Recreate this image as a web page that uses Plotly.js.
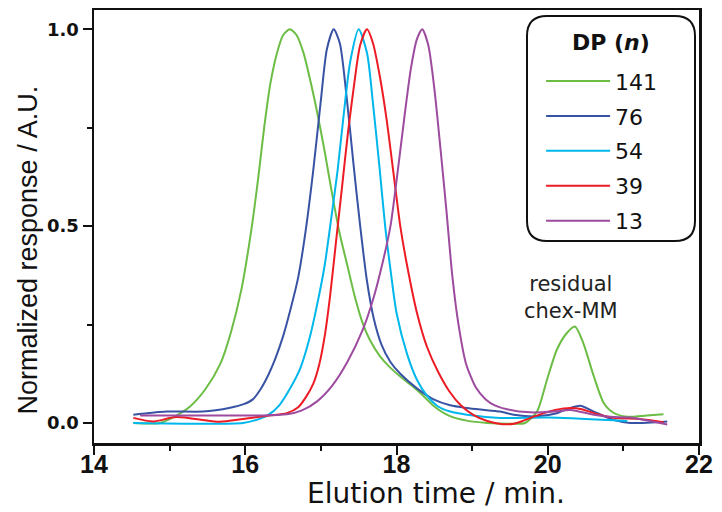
<!DOCTYPE html>
<html>
<head>
<meta charset="utf-8">
<script src="https://cdn.plot.ly/plotly-3.0.1.min.js"></script>
<style>html,body{margin:0;padding:0;background:#fff;}#chart{width:722px;height:512px;}</style>
</head>
<body>
<div id="chart"></div>
<script>
// ---- data ----
const seriesNames = ['141', '76', '54', '39', '13'];
const seriesColors = ['#6cbd45', '#3953a4', '#00b7eb', '#ed1c24', '#9d4b9f'];

const time141 = [14.52, 14.87, 15.07, 15.27, 15.47, 15.67, 15.81, 15.95, 16.08, 16.17, 16.25, 16.33, 16.42, 16.50, 16.59, 16.68, 16.77, 16.86, 16.95, 17.05, 17.15, 17.25, 17.35, 17.45, 17.55, 17.65, 17.78, 17.92, 18.05, 18.20, 18.35, 18.50, 18.70, 18.93, 19.20, 19.50, 19.70, 19.86, 19.99, 20.12, 20.25, 20.36, 20.47, 20.61, 20.74, 20.87, 21.05, 21.31, 21.53];
const resp141 = [0.0, 0.0, 0.017, 0.042, 0.085, 0.15, 0.23, 0.34, 0.49, 0.62, 0.75, 0.86, 0.94, 0.985, 1.0, 0.985, 0.94, 0.87, 0.79, 0.69, 0.58, 0.48, 0.40, 0.32, 0.255, 0.21, 0.17, 0.14, 0.118, 0.095, 0.07, 0.042, 0.018, 0.006, 0.0, -0.002, 0.0, 0.03, 0.11, 0.186, 0.228, 0.245, 0.203, 0.118, 0.051, 0.026, 0.016, 0.019, 0.022];

const time76 = [14.52, 14.96, 15.44, 15.80, 15.98, 16.10, 16.20, 16.30, 16.40, 16.50, 16.60, 16.70, 16.80, 16.90, 17.00, 17.08, 17.17, 17.25, 17.34, 17.43, 17.52, 17.61, 17.70, 17.80, 17.92, 18.05, 18.27, 18.49, 18.71, 18.93, 19.11, 19.37, 19.55, 19.86, 20.12, 20.30, 20.43, 20.61, 20.87, 21.09, 21.58];
const resp76 = [0.021, 0.029, 0.029, 0.039, 0.048, 0.06, 0.085, 0.12, 0.165, 0.22, 0.29, 0.37, 0.49, 0.643, 0.82, 0.95, 1.0, 0.965, 0.829, 0.66, 0.50, 0.36, 0.265, 0.20, 0.155, 0.125, 0.088, 0.06, 0.045, 0.038, 0.034, 0.029, 0.021, 0.017, 0.025, 0.038, 0.044, 0.029, 0.008, 0.0, 0.004];

const time54 = [14.52, 15.97, 16.15, 16.30, 16.45, 16.60, 16.73, 16.85, 16.95, 17.05, 17.13, 17.22, 17.30, 17.39, 17.50, 17.61, 17.69, 17.78, 17.85, 17.92, 18.00, 18.14, 18.27, 18.40, 18.55, 18.71, 18.93, 19.37, 19.99, 20.87, 21.05];
const resp54 = [0.0, 0.0, 0.008, 0.02, 0.045, 0.09, 0.14, 0.215, 0.30, 0.40, 0.51, 0.64, 0.78, 0.92, 1.0, 0.94, 0.81, 0.64, 0.50, 0.39, 0.28, 0.175, 0.11, 0.07, 0.042, 0.029, 0.021, 0.013, 0.014, 0.007, 0.005];

const time39 = [14.52, 14.78, 15.09, 15.66, 15.97, 16.32, 16.55, 16.70, 16.80, 16.90, 16.98, 17.05, 17.12, 17.20, 17.28, 17.36, 17.44, 17.52, 17.61, 17.69, 17.78, 17.87, 17.96, 18.05, 18.14, 18.27, 18.40, 18.55, 18.70, 18.85, 19.02, 19.20, 19.40, 19.55, 19.68, 19.90, 20.10, 20.30, 20.45, 20.61, 20.87, 21.22, 21.53];
const resp39 = [0.013, 0.004, 0.015, 0.003, 0.01, 0.019, 0.025, 0.04, 0.065, 0.10, 0.15, 0.22, 0.32, 0.46, 0.60, 0.74, 0.86, 0.96, 1.0, 0.964, 0.88, 0.77, 0.635, 0.50, 0.40, 0.28, 0.195, 0.13, 0.08, 0.045, 0.02, 0.005, -0.003, -0.002, 0.006, 0.022, 0.033, 0.038, 0.035, 0.025, 0.013, 0.01, 0.002];

const time13 = [14.61, 15.50, 16.19, 16.55, 16.75, 16.95, 17.15, 17.35, 17.55, 17.70, 17.82, 17.92, 18.01, 18.10, 18.19, 18.27, 18.34, 18.42, 18.50, 18.58, 18.66, 18.74, 18.82, 18.92, 19.05, 19.18, 19.30, 19.46, 19.77, 20.08, 20.30, 20.61, 20.87, 21.09, 21.58];
const resp13 = [0.019, 0.019, 0.019, 0.022, 0.032, 0.055, 0.095, 0.155, 0.235, 0.32, 0.41, 0.50, 0.63, 0.77, 0.90, 0.975, 1.0, 0.96, 0.85, 0.70, 0.54, 0.37, 0.25, 0.15, 0.09, 0.06, 0.045, 0.035, 0.027, 0.029, 0.033, 0.021, 0.015, 0.014, -0.004];

const xTickVals = [14, 16, 18, 20, 22];
const xTickText = ['14', '16', '18', '20', '22'];
const yTickVals = [0, 0.5, 1.0];
const yTickText = ['0.0', '0.5', '1.0'];

const xTitle = 'Elution time / min.';
const yTitle = 'Normalized response / A.U.';
const legendTitle = '<b>DP (<i>n</i>)</b>';
const noteText = 'residual<br>chex-MM';
const noteX = 20.31, noteY = 0.32;

// ---- traces ----
const times = [time141, time76, time54, time39, time13];
const resps = [resp141, resp76, resp54, resp39, resp13];
const traces = seriesNames.map((n, i) => ({
  type: 'scatter', mode: 'lines', name: n,
  x: times[i], y: resps[i],
  legendgroup: 'g' + i,
  line: {color: seriesColors[i], width: 2, shape: 'spline', smoothing: 0.7}
}));

// rounded legend box in paper coordinates (plot area 605 x 433 px)
const W = 605, H = 433;
function roundedBox(px0, py0, px1, py1, r) {
  const X = p => p / W, Y = p => 1 - p / H;
  const x0 = X(px0), x1 = X(px1), yt = Y(py0), yb = Y(py1);
  const rx = r / W, ry = r / H;
  return `M ${x0 + rx},${yt} L ${x1 - rx},${yt} Q ${x1},${yt} ${x1},${yt - ry} ` +
         `L ${x1},${yb + ry} Q ${x1},${yb} ${x1 - rx},${yb} ` +
         `L ${x0 + rx},${yb} Q ${x0},${yb} ${x0},${yb + ry} ` +
         `L ${x0},${yt - ry} Q ${x0},${yt} ${x0 + rx},${yt} Z`;
}

const axisCommon = {
  showline: true, linecolor: '#111', linewidth: 2.5, mirror: true,
  ticks: 'outside', tickcolor: '#111', tickwidth: 2, ticklen: 9,
  showgrid: false, zeroline: false
};

const layout = {
  width: 722, height: 512,
  margin: {l: 94, r: 23, t: 10, b: 69},
  paper_bgcolor: '#fff', plot_bgcolor: '#fff',
  showlegend: true,
  xaxis: Object.assign({}, axisCommon, {
    range: [14, 22], tickvals: xTickVals, ticktext: xTickText,
    ticklabelstandoff: -12,
    tickfont: {family: 'Liberation Sans, Arial, sans-serif', size: 25, color: '#111', weight: 'bold'},
    minor: {dtick: 1, ticks: 'outside', ticklen: 5, tickwidth: 2, tickcolor: '#111'}
  }),
  yaxis: Object.assign({}, axisCommon, {
    range: [-0.0508, 1.049], tickvals: yTickVals, ticktext: yTickText,
    tickfont: {family: 'DejaVu Sans, sans-serif', size: 18, color: '#111', weight: 'bold'},
    minor: {dtick: 0.25, tick0: 0, ticks: 'outside', ticklen: 5, tickwidth: 2, tickcolor: '#111'}
  }),
  legend: {
    x: 0.739, xanchor: 'left', y: 0.884, yanchor: 'top',
    bgcolor: 'rgba(0,0,0,0)', borderwidth: 0,
    traceorder: 'grouped', tracegroupgap: 3.3, itemwidth: 64,
    font: {family: 'DejaVu Sans, sans-serif', size: 22, color: '#111'}
  },
  shapes: [{
    type: 'path', xref: 'paper', yref: 'paper',
    path: roundedBox(433, 6, 601, 231, 20),
    line: {color: '#111', width: 2}, fillcolor: '#fff', layer: 'above'
  }],
  annotations: [
    {x: 0.8545, y: 0.9238, xref: 'paper', yref: 'paper', text: legendTitle, showarrow: false,
     xanchor: 'center', yanchor: 'middle',
     font: {family: 'DejaVu Sans, sans-serif', size: 22, color: '#111'}},
    {x: noteX, y: noteY, xref: 'x', yref: 'y', text: noteText, showarrow: false,
     font: {family: 'DejaVu Sans, sans-serif', size: 21, color: '#222'}, align: 'center'},
    {x: 0.5645, y: -0.1155, xref: 'paper', yref: 'paper', text: xTitle, showarrow: false,
     xanchor: 'center', yanchor: 'middle',
     font: {family: 'DejaVu Sans, sans-serif', size: 28, color: '#111'}},
    {x: -0.1083, y: 0.4457, xref: 'paper', yref: 'paper', text: yTitle, showarrow: false,
     textangle: -90, xanchor: 'center', yanchor: 'middle',
     font: {family: 'Liberation Sans, Arial, sans-serif', size: 27, color: '#111'}}
  ]
};

Plotly.newPlot('chart', traces, layout, {staticPlot: true, displayModeBar: false});
</script>
</body>
</html>
